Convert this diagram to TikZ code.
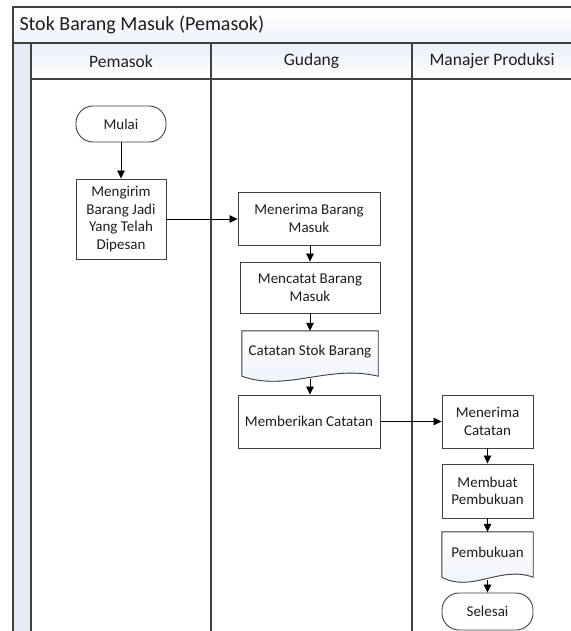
\documentclass[tikz,border=0pt]{standalone}
\usepackage{fontspec}
\setmainfont{Carlito}
\usetikzlibrary{arrows.meta,calc}
\definecolor{frame}{HTML}{404040}
\definecolor{lightblue}{HTML}{E4EBF7}
\definecolor{txt}{HTML}{1E1E1E}
\begin{document}
\begin{tikzpicture}[x=1pt,y=-1pt,
  every node/.style={text=txt},
  procbox/.style={draw=frame,line width=0.9pt,fill=white,align=center,font=\fontsize{15}{17.5}\selectfont,inner sep=1pt},
  termbox/.style={procbox,rounded corners=17pt},
  docbox/.style={align=center,font=\fontsize{15}{17.5}\selectfont,inner sep=1pt},
  flow/.style={draw=black,line width=0.8pt,-{Triangle[length=8pt,width=7.5pt]}},
  lane/.style={draw=frame,line width=1.2pt}]
\useasboundingbox (0,0) rectangle (570,631);
% title and header shading
\shade[top color=white,bottom color=lightblue!60] (13,7) rectangle (575,43);
\shade[top color=lightblue!80,bottom color=white] (31,43) rectangle (575,79);
\fill[lightblue] (13,43) rectangle (31,640);
% frame lines
\draw[lane] (575,7) -- (13,7) -- (13,640);
\draw[lane] (13,43) -- (575,43);
\draw[lane] (31,43) -- (31,640);
\draw[lane] (31,79) -- (575,79);
\draw[lane] (211,43) -- (211,640);
\draw[lane] (412,43) -- (412,640);
% texts
\node[anchor=west,font=\fontsize{20}{24}\selectfont] (title) at (16,25) {Stok Barang Masuk (Pemasok)};
\node[font=\fontsize{17.5}{20}\selectfont] (h1) at (121,61) {Pemasok};
\node[font=\fontsize{17.5}{20}\selectfont] (h2) at (311.5,61) {Gudang};
\node[font=\fontsize{17.5}{20}\selectfont] (h3) at (492,61) {Manajer Produksi};
% nodes
\node[termbox,minimum width=90pt,minimum height=36pt] (mulai) at (121,124) {Mulai};
\node[procbox,minimum width=90pt,minimum height=80pt] (kirim) at (121,219) {Mengirim\\Barang Jadi\\Yang Telah\\Dipesan};
\node[procbox,minimum width=142pt,minimum height=53pt] (terima) at (309,218.5) {Menerima Barang\\Masuk};
\node[procbox,minimum width=140pt,minimum height=51pt] (catat) at (310,287.5) {Mencatat Barang\\Masuk};
\node[docbox,minimum width=136pt,minimum height=45pt] (stok) at (310,353.5) {};
\filldraw[draw=frame,line width=0.9pt,top color=white,bottom color=lightblue!70]
  (stok.north west) -- (stok.north east) -- (stok.south east)
  .. controls ($(stok.south east)+(-50,-12)$) and ($(stok.south west)+(45,16)$) .. (stok.south west) -- cycle;
\node[docbox] (stoktxt) at ([yshift=2pt]stok.center) {Catatan Stok Barang};
\node[procbox,minimum width=142pt,minimum height=53pt] (beri) at (309,421.5) {Memberikan Catatan};
\node[procbox,minimum width=91pt,minimum height=53pt] (tcatat) at (487.5,421.5) {Menerima\\Catatan};
\node[procbox,minimum width=91pt,minimum height=54pt] (buat) at (487.5,491) {Membuat\\Pembukuan};
\node[docbox,minimum width=91pt,minimum height=45pt] (buku) at (487.5,554.5) {};
\filldraw[draw=frame,line width=0.9pt,top color=white,bottom color=lightblue!70]
  (buku.north west) -- (buku.north east) -- (buku.south east)
  .. controls ($(buku.south east)+(-33,-12)$) and ($(buku.south west)+(30,16)$) .. (buku.south west) -- cycle;
\node[docbox] (bukutxt) at ([yshift=2pt]buku.center) {Pembukuan};
\node[termbox,minimum width=91pt,minimum height=37pt] (selesai) at (487.5,611.5) {Selesai};
% connectors
\draw[flow] (mulai.south) -- (kirim.north);
\draw[flow] (kirim.east) -- (kirim.east -| terima.west);
\draw[flow] (terima.south -| catat.north) -- (catat.north);
\draw[flow] (catat.south) -- (stok.north);
\draw[flow] ([yshift=-3pt]stok.south) -- (beri.north -| stok.south);
\draw[flow] (beri.east) -- (beri.east -| tcatat.west);
\draw[flow] (tcatat.south) -- (buat.north);
\draw[flow] (buat.south) -- (buku.north);
\draw[flow] ([yshift=-3pt]buku.south) -- (selesai.north);
\end{tikzpicture}
\end{document}
